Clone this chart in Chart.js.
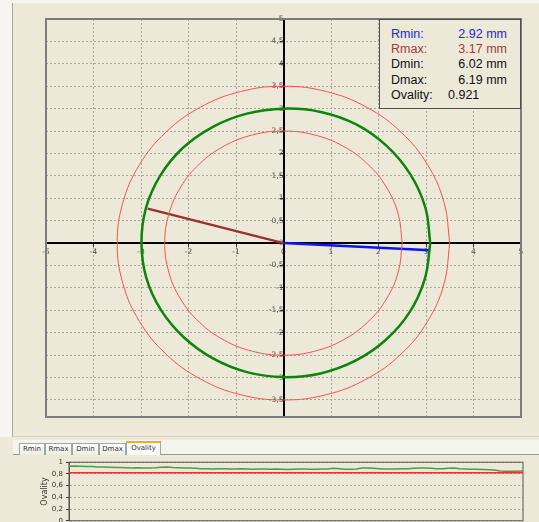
<!DOCTYPE html>
<html>
<head>
<meta charset="utf-8">
<script src="https://cdn.jsdelivr.net/npm/chart.js@4"></script>
<style>
  body { margin: 0; width: 539px; height: 522px; background: #ECE9D8; position: relative; overflow: hidden; font-family: "Liberation Sans", Arial, sans-serif; }
  .abs { position: absolute; }
  #leftstrip { left: 0; top: 0; width: 12px; height: 437px; background: #F6F5F0; }
  #topstrip { left: 12px; top: 0; width: 527px; height: 3px; background: #F6F5F0; }
  #panel { left: 12px; top: 3px; width: 527px; height: 434px; border-left: 1px solid #A3A8B0; border-bottom: 1px solid #D6D2C0; box-sizing: border-box; }
  #mainWrap { left: 0; top: 0; width: 539px; height: 437px; }
  #info { left: 379px; top: 19px; width: 142px; height: 90px; border: 1px solid #505050; background: #ECE9D8; box-sizing: border-box; font-size: 12.5px; }
  #info span { position: absolute; white-space: nowrap; line-height: 14px; }
  #tabband { left: 13px; top: 440px; width: 526px; height: 14px; background: #F4F3EE; border-bottom: 1px solid #919B9C; }
  .tab { top: 443px; height: 11px; border: 1px solid #A0A7A8; border-bottom: none; background: linear-gradient(#FFFFFF, #ECEBE4); font-family: "DejaVu Sans", sans-serif; font-size: 7px; color: #333; text-align: center; line-height: 11px; box-sizing: content-box; }
  .tab.sel { top: 441px; background: #FCFCFE; border-top: 2px solid #F2A83A; z-index: 2; height: 12px; }
  #bottomWrap { left: 0; top: 455px; width: 539px; height: 73px; }
</style>
</head>
<body>
<div id="leftstrip" class="abs"></div>
<div id="topstrip" class="abs"></div>
<div id="panel" class="abs"></div>
<div id="mainWrap" class="abs"><canvas id="polar" width="539" height="437"></canvas></div>
<div id="info" class="abs">
  <span style="left:11px;top:7px;color:#2323F0">Rmin:</span><span style="right:13px;top:7px;color:#2323F0">2.92 mm</span>
  <span style="left:11px;top:22px;color:#A33C3C">Rmax:</span><span style="right:13px;top:22px;color:#A33C3C">3.17 mm</span>
  <span style="left:11px;top:37px;color:#111">Dmin:</span><span style="right:13px;top:37px;color:#111">6.02 mm</span>
  <span style="left:11px;top:53px;color:#111">Dmax:</span><span style="right:13px;top:53px;color:#111">6.19 mm</span>
  <span style="left:11px;top:68px;color:#111">Ovality:</span><span style="left:68px;top:68px;color:#111">0.921</span>
</div>
<div id="tabband" class="abs"></div>
<div class="abs tab" style="left:19px;width:24px">Rmin</div>
<div class="abs tab" style="left:45px;width:25px">Rmax</div>
<div class="abs tab" style="left:72px;width:25px">Dmin</div>
<div class="abs tab" style="left:99px;width:25px">Dmax</div>
<div class="abs tab sel" style="left:126px;width:33px">Ovality</div>
<div id="bottomWrap" class="abs"><canvas id="trend" width="539" height="73"></canvas></div>

<script>
// profile, sampled every 15 degrees (counter-clockwise from +x)
const angles = [0, 15, 30, 45, 60, 75, 90, 105, 120, 135, 150, 165, 180, 195, 210, 225, 240, 255, 270, 285, 300, 315, 330, 345];
const measuredRadii = [3.09, 3.09, 3.08, 3.07, 3.06, 3.03, 3.00, 2.99, 2.99, 3.00, 3.00, 3.00, 2.99, 2.99, 2.98, 2.97, 2.97, 2.98, 2.99, 3.01, 3.03, 3.05, 3.07, 3.08];
const tolInner = 2.5;
const tolOuter = 3.5;
const rminEnd = [3.09, -0.16];
const rmaxEnd = [-2.86, 0.77];
const xRange = [-5, 5];
const yRange = [-3.88, 5];

// ovality trend
const ovality = [0.93, 0.935, 0.93, 0.925, 0.925, 0.92, 0.92, 0.915, 0.91, 0.91,
  0.905, 0.9, 0.905, 0.9, 0.9, 0.905, 0.915, 0.92, 0.91, 0.905,
  0.9, 0.9, 0.895, 0.89, 0.89, 0.885, 0.89, 0.89, 0.885, 0.885,
  0.89, 0.885, 0.88, 0.885, 0.885, 0.88, 0.885, 0.88, 0.875, 0.88,
  0.885, 0.885, 0.88, 0.88, 0.885, 0.885, 0.895, 0.89, 0.88, 0.88,
  0.885, 0.9, 0.9, 0.895, 0.89, 0.885, 0.885, 0.885, 0.89, 0.89,
  0.895, 0.9, 0.9, 0.895, 0.89, 0.89, 0.895, 0.9, 0.89, 0.885,
  0.88, 0.88, 0.875, 0.87, 0.865, 0.85, 0.845, 0.845, 0.845, 0.85];
const ovalityLimit = 0.82;

const comma = v => String(Math.round(v * 100) / 100).replace('.', ',');

function polarToXY(radii) {
  const pts = angles.map((a, i) => {
    const t = a * Math.PI / 180;
    return { x: radii[i] * Math.cos(t), y: radii[i] * Math.sin(t) };
  });
  pts.push(pts[0]);
  return pts;
}

const frame = {
  id: 'frame',
  beforeDatasetsDraw(chart, args, opts) {
    const a = chart.chartArea, c = chart.ctx;
    c.save();
    c.strokeStyle = opts.color;
    c.lineWidth = opts.width;
    c.strokeRect(a.left, a.top, a.right - a.left, a.bottom - a.top);
    c.restore();
  }
};

const curve = (data, color, width) => ({
  data, borderColor: color, borderWidth: width, showLine: true,
  pointRadius: 0, tension: 0.4, fill: false
});

new Chart(document.getElementById('polar'), {
  type: 'scatter',
  data: {
    datasets: [
      curve(polarToXY(angles.map(() => tolOuter)), '#FF5050', 1),
      curve(polarToXY(angles.map(() => tolInner)), '#FF5050', 1),
      curve(polarToXY(measuredRadii), '#0A860A', 2.5),
      { data: [{ x: 0, y: 0 }, { x: rmaxEnd[0], y: rmaxEnd[1] }], borderColor: '#9B3030', borderWidth: 2.5, showLine: true, pointRadius: 0 },
      { data: [{ x: 0, y: 0 }, { x: rminEnd[0], y: rminEnd[1] }], borderColor: '#0A14FF', borderWidth: 2.5, showLine: true, pointRadius: 0 }
    ]
  },
  options: {
    responsive: false,
    animation: false,
    layout: { padding: { left: 46, top: 19, right: 18, bottom: 20 } },
    plugins: { legend: { display: false }, tooltip: { enabled: false }, frame: { color: '#7C7C7C', width: 2 } },
    scales: {
      x: {
        type: 'linear', min: xRange[0], max: xRange[1], position: { y: 0 },
        ticks: { stepSize: 1, includeBounds: false, color: '#555', font: { size: 7.5, family: 'DejaVu Sans' }, padding: 1, maxRotation: 0, callback: comma },
        grid: { color: '#A8A6A0', tickLength: 3, tickColor: '#333' },
        border: { display: true, color: '#000', width: 2, dash: [2, 2] }
      },
      y: {
        type: 'linear', min: yRange[0], max: yRange[1], position: { x: 0 },
        ticks: { stepSize: 0.5, includeBounds: false, autoSkip: false, color: '#555', font: { size: 7.5, family: 'DejaVu Sans' }, padding: 1, callback: comma },
        grid: { color: '#A8A6A0', tickLength: 3, tickColor: '#333' },
        border: { display: true, color: '#000', width: 2, dash: [2, 2] }
      }
    }
  },
  plugins: [frame]
});

new Chart(document.getElementById('trend'), {
  type: 'scatter',
  data: {
    datasets: [
      { data: [{ x: 0, y: ovalityLimit }, { x: ovality.length - 1, y: ovalityLimit }], borderColor: '#F03030', borderWidth: 1.5, showLine: true, pointRadius: 0 },
      { data: ovality.map((v, i) => ({ x: i, y: v })), borderColor: '#46A046', borderWidth: 1.5, showLine: true, pointRadius: 0 }
    ]
  },
  options: {
    responsive: false,
    animation: false,
    layout: { padding: { left: 38, top: 0, right: 16, bottom: 0 } },
    plugins: { legend: { display: false }, tooltip: { enabled: false }, frame: { color: '#555', width: 1 } },
    scales: {
      x: { type: 'linear', min: 0, max: ovality.length - 1, display: false },
      y: {
        min: 0, max: 1,
        afterFit: s => { s.width = 31; },
        title: { display: true, text: 'Ovality', color: '#333', font: { size: 8, family: 'DejaVu Sans' }, padding: 2 },
        ticks: { stepSize: 0.2, autoSkip: false, color: '#333', font: { size: 7, family: 'DejaVu Sans' }, padding: 3, callback: comma },
        grid: { color: '#A8A6A0', tickLength: 3, tickColor: '#333' },
        border: { display: true, color: '#555', width: 1, dash: [2, 2] }
      }
    }
  },
  plugins: [frame]
});
</script>
</body>
</html>
